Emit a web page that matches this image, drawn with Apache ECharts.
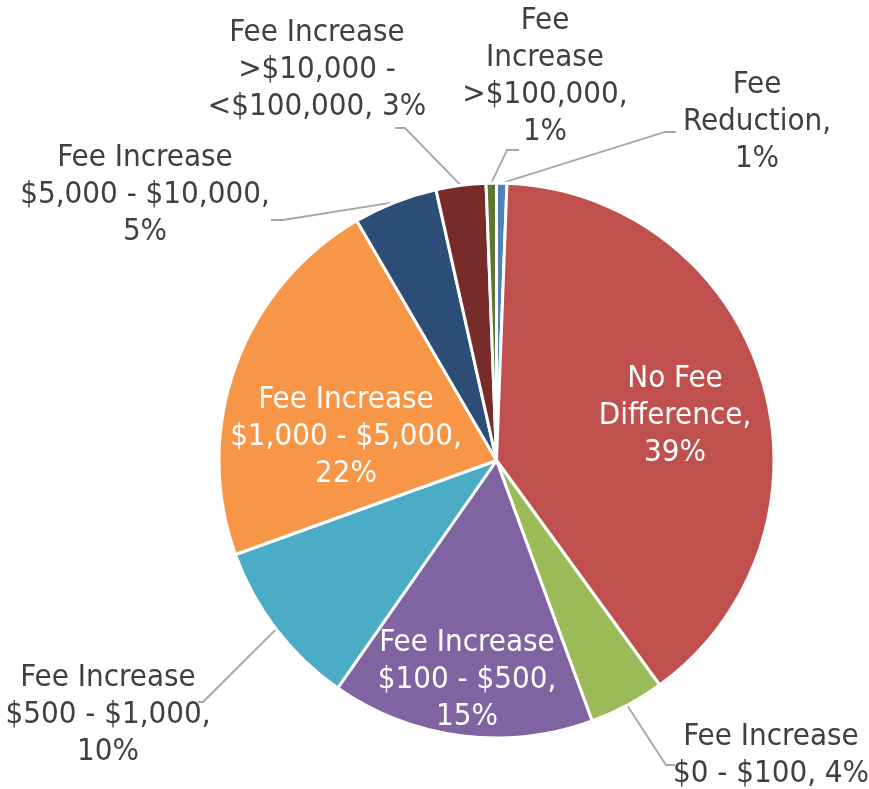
<!DOCTYPE html>
<html>
<head>
<meta charset="utf-8">
<script src="https://cdn.jsdelivr.net/npm/echarts@6/dist/echarts.min.js"></script>
<style>
html, body { margin: 0; background: #fff; }
#chart { width: 869px; height: 789px; }
</style>
</head>
<body>
<div id="chart"></div>
<script>
// categories, clockwise from 12 o'clock (line breaks as shown on the labels)
const categories = [
    "Fee\nReduction",
    "No Fee\nDifference",
    "Fee Increase\n$0 - $100",
    "Fee Increase\n$100 - $500",
    "Fee Increase\n$500 - $1,000",
    "Fee Increase\n$1,000 - $5,000",
    "Fee Increase\n$5,000 - $10,000",
    "Fee Increase\n>$10,000 -\n<$100,000",
    "Fee\nIncrease\n>$100,000"
];
// share of cases, percent
const shares = [0.6, 39.4, 4.4, 15.3, 9.8, 22.1, 4.9, 2.9, 0.6];
// separator between name and percent in each label
const separators = [",\n", ",\n", ", ", ",\n", ",\n", ",\n", ",\n", ", ", ",\n"];
const insideLabels = [1, 3, 5];

const colors = ["#4F81BD", "#C0504D", "#9BBB59", "#8064A2", "#4BACC6",
                "#F79646", "#2C4D75", "#772C2A", "#5F7530"];

// label centres and leader line bends (layout only)
const labelPos = [[757, 122], [675, 416], [771, 755], [467, 680], [108, 715],
                  [346, 437], [145, 195], [317, 70], [545, 76]];
const leaderBends = {
    0: [[665, 132], [676, 132]],
    2: [[666, 765], [675, 765]],
    4: [[203, 702], [198, 702]],
    6: [[283, 220], [271, 220]],
    7: [[405, 128], [395, 128]],
    8: [[507, 150], [519, 150]]
};

let chart = echarts.init(document.getElementById("chart"));

const data = categories.map((name, i) => {
    const inside = insideLabels.indexOf(i) >= 0;
    return {
        name: name,
        value: shares[i],
        itemStyle: { color: colors[i] },
        label: inside
            ? { position: "inside", color: "#fff" }
            : { position: "outside", color: "#404040" },
        labelLine: { show: !inside }
    };
});

const option = {
    animation: false,
    series: [
        {
            type: "pie",
            center: [496.5, 460.5],
            radius: 277.5,
            startAngle: 90,
            clockwise: true,
            avoidLabelOverlap: false,
            itemStyle: {
                borderColor: "#fff",
                borderWidth: 3
            },
            label: {
                fontFamily: "'DejaVu Sans Condensed', 'DejaVu Sans', sans-serif",
                fontSize: 31,
                lineHeight: 37,
                align: "center",
                formatter: (p) => p.name + separators[p.dataIndex] + Math.round(p.percent) + "%"
            },
            labelLine: {
                lineStyle: { color: "#A6A6A6", width: 1.8 }
            },
            labelLayout: (params) => {
                const i = params.dataIndex;
                const res = {
                    x: labelPos[i][0],
                    y: labelPos[i][1],
                    align: "center",
                    verticalAlign: "middle"
                };
                if (leaderBends[i] && params.labelLinePoints) {
                    res.labelLinePoints = [params.labelLinePoints[0]].concat(leaderBends[i]);
                }
                return res;
            },
            data: data
        }
    ]
};
chart.setOption(option);
</script>
</body>
</html>
